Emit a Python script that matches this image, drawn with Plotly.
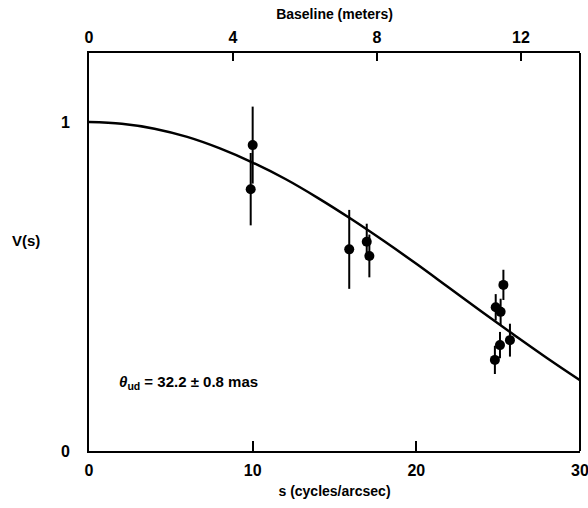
import plotly.graph_objects as go

# Uniform-disk model curve
curve_s = [0, 2, 4, 6, 8, 10, 12, 14, 16, 18, 20, 22, 24, 26, 28, 30]
curve_v = [1.0, 0.995, 0.980, 0.955, 0.920, 0.877, 0.827, 0.769, 0.706,
           0.639, 0.569, 0.496, 0.423, 0.352, 0.282, 0.215]

# Measured visibilities
obs_s = [10.0, 9.88, 15.90, 16.97, 17.13, 25.32, 24.85, 25.15, 25.72, 25.11, 24.80]
obs_v = [0.930, 0.796, 0.613, 0.636, 0.593, 0.505, 0.437, 0.423, 0.337, 0.322, 0.277]
obs_err = [0.117, 0.110, 0.120, 0.055, 0.065, 0.046, 0.040, 0.040, 0.050, 0.040, 0.043]

x_ticks = [0, 10, 20, 30]
x_ticklabels = ["0", "10", "20", "30"]
y_ticks = [0, 1]
y_ticklabels = ["0", "1"]
top_ticks = [0, 4, 8, 12]
top_ticklabels = ["0", "4", "8", "12"]
top_range = [0, 13.64]

FONT = "Liberation Sans"

def bold(labels):
    return ["<b>%s</b>" % t for t in labels]

fig = go.Figure()
fig.add_trace(go.Scatter(x=curve_s, y=curve_v, mode="lines", line_shape="spline",
                         line=dict(color="black", width=2.5), showlegend=False))
fig.add_trace(go.Scatter(x=obs_s, y=obs_v, mode="markers",
                         marker=dict(color="black", size=10),
                         error_y=dict(type="data", array=obs_err, color="black",
                                      thickness=2, width=0),
                         showlegend=False))
# invisible trace to bind the top axis
fig.add_trace(go.Scatter(x=top_range, y=[0, 0], xaxis="x2", mode="lines",
                         line=dict(color="rgba(0,0,0,0)"), showlegend=False,
                         hoverinfo="skip"))

axis_common = dict(showgrid=False, zeroline=False, showline=True, linecolor="black",
                   linewidth=2, ticks="inside", tickcolor="black", tickwidth=2,
                   ticklabeloverflow="allow", automargin=False,
                   tickfont=dict(family=FONT, size=16, color="black"))

fig.update_layout(
    width=588, height=508,
    margin=dict(l=89, r=8, t=53, b=57),
    paper_bgcolor="white", plot_bgcolor="white",
    xaxis=dict(range=[0, 30], tickvals=x_ticks, ticktext=bold(x_ticklabels),
               ticklen=10, ticklabelstandoff=4,
               title=dict(text="<b>s (cycles/arcsec)</b>", standoff=8,
                          font=dict(family=FONT, size=14, color="black")),
               **axis_common),
    xaxis2=dict(range=top_range, tickvals=top_ticks, ticktext=bold(top_ticklabels),
                overlaying="x", side="top", anchor="y", ticklen=8, ticklabelstandoff=2,
                title=dict(text="<b>Baseline (meters)</b>", standoff=6,
                           font=dict(family=FONT, size=14, color="black")),
                **axis_common),
    yaxis=dict(range=[0, 1.21], tickvals=y_ticks, ticktext=bold(y_ticklabels),
               ticklen=10, ticklabelstandoff=14, **axis_common),
)

# right edge of the frame
fig.add_shape(type="line", xref="paper", yref="paper", x0=1, x1=1, y0=0, y1=1,
              line=dict(color="black", width=2))

fig.add_annotation(xref="paper", yref="paper", x=-0.16, y=0.53, xanchor="left",
                   yanchor="middle", showarrow=False,
                   text="<b>V(s)</b>", font=dict(family=FONT, size=15, color="black"))
fig.add_annotation(xref="x", yref="y", x=1.7, y=0.207, xanchor="left", yanchor="middle",
                   showarrow=False,
                   text="<b><i>θ</i><sub>ud</sub> = 32.2 ± 0.8 mas</b>",
                   font=dict(family=FONT, size=15, color="black"))

fig.write_html("out.html")
